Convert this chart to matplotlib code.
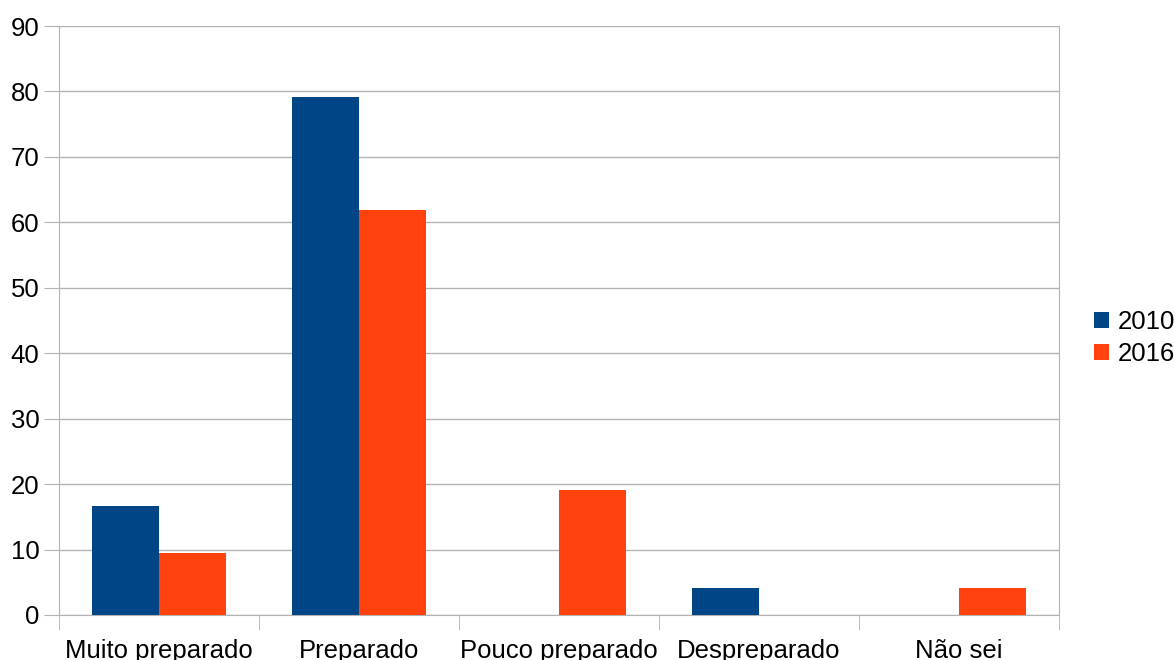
import matplotlib.pyplot as plt
import numpy as np

plt.rcParams['font.family'] = ['Liberation Sans', 'DejaVu Sans']

categories = ['Muito preparado', 'Preparado', 'Pouco preparado', 'Despreparado', 'Não sei']
vals_2010 = [16.7, 79.2, 0, 4.2, 0]
vals_2016 = [9.5, 61.9, 19.1, 0, 4.2]

fig = plt.figure(figsize=(11.75, 6.6), dpi=100)
ax = fig.add_axes([59/1175, 45/660, 1000/1175, 589/660])

x = np.arange(len(categories))
w = 0.335
ax.bar(x - w/2, vals_2010, width=w, color='#004586', label='2010', zorder=3)
ax.bar(x + w/2, vals_2016, width=w, color='#ff420e', label='2016', zorder=3)

ax.set_xlim(-0.5, len(categories) - 0.5)
ax.set_ylim(0, 90)
ax.set_yticks(range(0, 91, 10))
ax.tick_params(axis='y', labelsize=18.5, length=11, color='#b3b3b3', pad=3)

# category labels centred, tick marks between categories
ax.set_xticks(x)
ax.set_xticklabels(categories, fontsize=18.5)
ax.tick_params(axis='x', length=0, pad=17)
ax.set_xticks(np.arange(-0.5, len(categories)), minor=True)
ax.tick_params(axis='x', which='minor', length=11, color='#b3b3b3')

ax.grid(True, axis='y', color='#b3b3b3', linewidth=1, zorder=0)
for s in ax.spines.values():
    s.set_color('#b3b3b3')
ax.spines['top'].set_visible(False)

fig.legend(loc='center left', bbox_to_anchor=(0.922, 0.488), fontsize=18.5, frameon=False,
           handlelength=0.6, handleheight=0.6, handletextpad=0.35, labelspacing=0.3,
           borderaxespad=0)

fig.savefig('out.png', dpi=100)
